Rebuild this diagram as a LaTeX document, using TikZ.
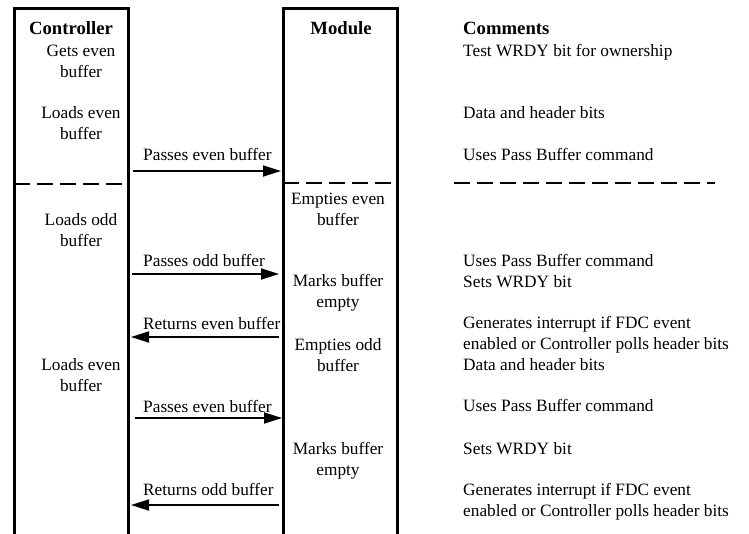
\documentclass[tikz,border=0pt]{standalone}
\usepackage{fontspec}
\setmainfont{Liberation Serif}
\usetikzlibrary{arrows.meta,positioning}

\begin{document}
\begin{tikzpicture}[
      x=1pt, y=-1pt,
      font=\fontsize{17.3}{20.3}\selectfont,
      hdr/.style={font=\fontsize{18.7}{22}\selectfont\bfseries,
                  anchor=base, inner sep=0pt},
      cbox/.style={align=center, anchor=base, inner sep=0pt},
      note/.style={anchor=base west, align=left, inner sep=0pt},
      lane/.style={line width=3pt},
      divider/.style={line width=2.3pt, dash pattern=on 16pt off 7pt},
      arr/.style={-{Triangle[length=18pt,width=11pt]}, line width=1.8pt},
    ]
      \useasboundingbox (0,0) rectangle (749,533);

      % Lanes
      \draw[lane] (14,536) -- (14,8) -- (128,8) -- (128,536);
      \draw[lane] (283,536) -- (283,8) -- (397,8) -- (397,536);

      % Headers
      \node[hdr] (ctrl) at (71,34) {Controller};
      \node[hdr] (mod)  at (341,34) {Module};
      \node[hdr, anchor=base west] (com) at (463,34) {Comments};

      % Controller steps (placed by the baseline of the last line)
      \node[cbox] (c1) at (81,77)  {Gets even\\buffer};
      \node[cbox] (c2) at (81,139) {Loads even\\buffer};
      \node[cbox] (c3) at (81,246) {Loads odd\\buffer};
      \node[cbox] (c4) at (81,391) {Loads even\\buffer};

      % Module steps
      \node[cbox] (m1) at (338,225) {Empties even\\buffer};
      \node[cbox] (m2) at (338,307) {Marks buffer\\empty};
      \node[cbox] (m3) at (338,371) {Empties odd\\buffer};
      \node[cbox] (m4) at (338,475) {Marks buffer\\empty};

      % Comments
      \node[note] (n1)  at (463,56)  {Test WRDY bit for ownership};
      \node[note] (n2)  at (463,118) {Data and header bits};
      \node[note] (n3)  at (463,160) {Uses Pass Buffer command};
      \node[note] (n4)  at (463,266) {Uses Pass Buffer command};
      \node[note] (n5)  at (463,287) {Sets WRDY bit};
      \node[note] (n6)  at (463,349)
            {Generates interrupt if FDC event\\
             enabled or Controller polls header bits};
      \node[note] (n7)  at (463,370) {Data and header bits};
      \node[note] (n8)  at (463,411) {Uses Pass Buffer command};
      \node[note] (n9)  at (463,454) {Sets WRDY bit};
      \node[note] (n10) at (463,516)
            {Generates interrupt if FDC event\\
             enabled or Controller polls header bits};

      % Handover dividers
      \draw[divider] (14,184) -- (125,184);
      \draw[divider] (283,183) -- (397,183);
      \draw[divider] (454,183) -- (715,183);

      % Message labels
      \node[note] (l1) at (143,160) {Passes even buffer};
      \node[note] (l2) at (143,266) {Passes odd buffer};
      \node[note] (l3) at (143,329) {Returns even buffer};
      \node[note] (l4) at (143,412) {Passes even buffer};
      \node[note] (l5) at (143,495) {Returns odd buffer};

      % Message ends on the lanes
      \coordinate (ca1) at (133,171); \coordinate (ma1) at (281,171);
      \coordinate (ca2) at (132,274); \coordinate (ma2) at (279,274);
      \coordinate (ca3) at (131,337); \coordinate (ma3) at (279,337);
      \coordinate (ca4) at (135,418); \coordinate (ma4) at (282,418);
      \coordinate (ca5) at (131,505); \coordinate (ma5) at (279,505);

      % Arrows
      \draw[arr] (ca1)--(ma1);
      \draw[arr] (ca2)--(ma2);
      \draw[arr] (ma3)--(ca3);
      \draw[arr] (ca4)--(ma4);
      \draw[arr] (ma5)--(ca5);
    \end{tikzpicture}
\end{document}
